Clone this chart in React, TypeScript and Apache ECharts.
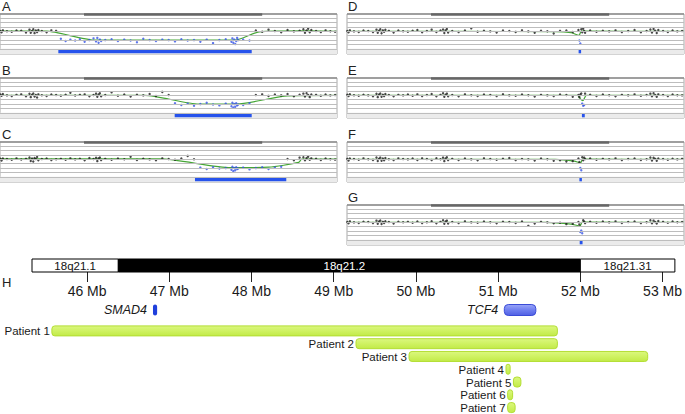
import React, { useEffect, useRef } from "react";
import * as echarts from "echarts";

// ---------- data ----------
const PROBE_MB = [
  43.74, 43.78, 43.82, 43.95, 44.1, 44.25, 44.4, 44.55,
  44.66, 44.7, 44.74, 44.78, 44.82, 44.86, 44.9, 44.94,
  45.05, 45.2, 45.35, 45.5,
  45.65, 45.8, 45.95, 46.1, 46.25, 46.4, 46.55, 46.68,
  46.76, 46.8, 46.84, 46.88, 46.92,
  47.05, 47.25, 47.45, 47.65, 47.85, 48.05, 48.25, 48.45, 48.65, 48.85,
  49.05, 49.25, 49.45, 49.65, 49.85, 50.05, 50.25, 50.45, 50.65, 50.85,
  51.03, 51.06, 51.09, 51.12, 51.15, 51.18, 51.21, 51.24,
  51.4, 51.6,
  51.8, 52.0, 52.2, 52.4, 52.6, 52.8, 53.0, 53.18,
  53.3, 53.35, 53.4, 53.45, 53.5, 53.55,
  53.7, 53.85, 54.0, 54.15, 54.3,
];

const LOG2_A = [
  0.05, -0.1, 0.12, 0.02, -0.05, 0.1, 0.08, -0.12,
  0.2, -0.15, 0.05, 0.25, -0.2, 0.1, -0.08, 0.15,
  0.04, -0.1, 0.12, 0.06,
  -0.85, -1.1, -0.95, -1.05, -0.9, -1.2, -1.0, -0.8,
  -1.15, -0.75, -1.3, -0.95, -1.1,
  -1.0, -0.9, -1.1, -0.95, -1.05, -1.25, -0.85, -1.0, -1.1, -0.95,
  -1.0, -1.15, -0.9, -1.05, -1.0, -1.2, -0.95, -1.35, -1.0, -0.9,
  -1.2, -0.8, -1.3, -0.95, -1.45, -1.1, -0.75, -1.0,
  -0.95, -1.05,
  0.1, -0.05, 0.2, 0.05, -0.1, 0.15, 0.0, 0.08,
  0.25, -0.15, 0.1, 0.3, -0.1, 0.15,
  0.05, -0.08, 0.12, 0.02, -0.04,
];
const LOG2_B = [
  0.1, -0.05, 0.15, 0.0, -0.08, 0.06, 0.12, -0.1,
  0.18, -0.2, 0.08, 0.22, -0.12, 0.05, -0.25, 0.12,
  0.02, -0.06, 0.1, 0.04,
  -0.05, 0.08, 0.3, -0.02, 0.06, 0.12, -0.1, 0.05,
  0.2, -0.15, 0.1, 0.25, -0.1,
  0.05, 0.35, -0.05, 0.1, -0.12, 0.08, 0.0, 0.15, -0.08, 0.4,
  0.05, -0.9, -1.1, -0.95, -1.2, -1.0, -0.85, -1.05, -1.15, -0.95,
  -1.25, -0.85, -1.4, -1.0, -1.3, -0.9, -1.15, -1.05,
  -1.1, -0.9,
  0.05, 0.12, -0.06, 0.1, 0.0, 0.15, -0.1, 0.08,
  0.2, -0.12, 0.25, 0.05, -0.2, 0.1,
  0.06, -0.04, 0.1, 0.0, 0.05,
];
const LOG2_C = [
  0.08, -0.12, 0.1, 0.05, -0.05, 0.12, -0.02, 0.06,
  0.22, -0.18, 0.1, -0.25, 0.15, 0.05, 0.28, -0.1,
  0.05, 0.1, -0.08, 0.02,
  0.06, -0.05, 0.12, 0.0, 0.08, -0.1, 0.15, 0.04,
  0.18, -0.2, 0.12, 0.22, -0.08,
  0.06, -0.04, 0.1, 0.02, 0.3, -0.06, 0.08, 0.0, -0.1, 0.12,
  0.05, -0.05, 0.1, 0.4, 0.02, -0.95, -1.1, -0.9, -1.05, -1.0,
  -1.2, -0.85, -1.35, -1.0, -1.25, -0.9, -1.1, -1.05,
  -0.95, -1.15,
  -1.0, -0.9, -1.1, -0.95, -0.85, 0.05, -0.1, 0.2,
  0.25, -0.1, 0.15, 0.3, -0.05, 0.12,
  0.08, -0.06, 0.1, 0.02, -0.03,
];
const LOG2_D = [
  0.05, -0.1, 0.12, 0.0, -0.06, 0.1, 0.04, -0.08,
  0.2, -0.15, 0.08, 0.25, -0.22, 0.12, -0.05, 0.18,
  0.06, -0.12, 0.1, 0.02,
  -0.04, 0.08, 0.15, -0.1, 0.05, 0.2, -0.06, 0.1,
  0.22, -0.18, 0.12, 0.28, -0.12,
  0.05, -0.08, 0.1, 0.35, -0.05, 0.08, 0.0, -0.12, 0.1, 0.04,
  -0.06, 0.12, 0.0, -0.15, 0.08, 0.02, -0.25, 0.06, 0.1, -0.08,
  0.15, -1.05, -1.4, 0.25, -0.1, 0.3, 0.05, -0.15,
  0.1, -0.05,
  0.08, 0.0, 0.12, -0.08, 0.05, 0.15, -0.1, 0.04,
  0.22, -0.12, 0.28, 0.08, -0.18, 0.15,
  0.05, -0.06, 0.1, 0.0, 0.04,
];
const LOG2_E = [
  0.08, -0.06, 0.14, 0.02, -0.04, 0.08, 0.0, -0.1,
  0.18, -0.2, 0.1, 0.22, -0.15, 0.08, -0.08, 0.15,
  0.05, -0.1, 0.06, 0.0,
  0.1, -0.05, 0.12, -0.08, 0.04, 0.16, -0.1, 0.06,
  0.25, -0.15, 0.08, 0.2, -0.1,
  0.04, -0.1, 0.12, 0.02, -0.06, 0.1, 0.05, -0.08, 0.14, 0.0,
  -0.05, 0.1, 0.02, -0.12, 0.06, 0.0, -0.08, 0.1, 0.04, -0.15,
  0.05, -0.2, 0.1, 0.22, -0.95, -1.2, -1.1, 0.2,
  0.08, -0.06,
  0.1, 0.02, -0.1, 0.06, 0.0, 0.12, -0.05, 0.05,
  0.2, -0.1, 0.25, 0.05, -0.15, 0.12,
  0.04, -0.08, 0.1, 0.02, 0.0,
];
const LOG2_F = [
  0.06, -0.12, 0.1, 0.04, -0.05, 0.12, 0.02, -0.06,
  0.22, -0.18, 0.06, 0.2, -0.15, 0.1, -0.1, 0.16,
  0.02, -0.08, 0.12, 0.05,
  0.0, 0.1, -0.06, 0.12, 0.05, -0.08, 0.14, 0.02,
  0.2, -0.2, 0.1, 0.25, -0.08,
  0.06, -0.06, 0.1, 0.0, -0.1, 0.12, 0.04, -0.05, 0.08, 0.15,
  -0.08, 0.05, 0.0, -0.12, 0.1, 0.02, -0.15, -0.1, -0.25, -0.2,
  0.1, -0.3, -1.0, -1.25, 0.25, -0.1, 0.2, 0.05,
  0.1, -0.04,
  0.06, 0.0, 0.12, -0.08, 0.05, 0.1, -0.06, 0.02,
  0.22, -0.12, 0.18, 0.06, -0.15, 0.1,
  0.05, -0.05, 0.08, 0.0, 0.06,
];
const LOG2_G = [
  0.04, -0.1, 0.12, 0.0, -0.06, 0.08, 0.05, -0.08,
  0.2, -0.15, 0.1, 0.22, -0.18, 0.06, -0.06, 0.14,
  0.04, -0.12, 0.08, 0.02,
  0.06, -0.04, 0.1, -0.08, 0.02, 0.14, -0.1, 0.06,
  0.24, -0.16, 0.1, 0.2, -0.12,
  0.05, -0.08, 0.12, 0.0, -0.05, 0.1, 0.02, -0.1, 0.08, 0.04,
  -0.06, 0.1, -0.4, -0.12, 0.06, 0.0, -0.1, -0.05, -0.2, -0.15,
  0.05, -0.25, -1.1, -0.95, -1.25, 0.25, 0.1, -0.08,
  0.08, -0.05,
  0.1, 0.0, 0.12, -0.06, 0.04, 0.1, -0.08, 0.02,
  0.25, -0.1, 0.2, 0.05, -0.12, 0.15,
  0.06, -0.04, 0.1, 0.02, 0.04,
];

const SMOOTH_A = [[43.73, 0.03], [45.2, 0.02], [46.7, -1.0], [51.15, -1.0], [51.9, -0.05], [53.4, 0.05], [54.36, 0.0]];
const SMOOTH_B = [[43.73, 0.0], [48.3, 0.0], [50.0, -1.0], [51.2, -1.0], [52.8, -0.05], [54.36, 0.0]];
const SMOOTH_C = [[43.73, 0.05], [48.8, 0.05], [51.0, -0.95], [52.2, -0.9], [53.15, -0.35], [53.25, 0.02], [54.36, 0.02]];
const SMOOTH_D = [[43.73, 0.0], [50.3, -0.02], [50.8, -0.15], [51.05, -0.45], [51.12, 0.02], [54.36, 0.0]];
const SMOOTH_E = [[43.73, 0.0], [51.0, 0.0], [51.1, -0.45], [51.17, -0.6], [51.28, 0.0], [54.36, 0.0]];
const SMOOTH_F = [[43.73, 0.0], [50.3, 0.0], [50.9, -0.2], [51.1, -0.4], [51.16, 0.02], [54.36, 0.0]];
const SMOOTH_G = [[43.73, 0.0], [50.0, 0.0], [50.8, -0.2], [51.08, -0.42], [51.15, 0.02], [54.36, 0.0]];

const PANEL_LETTERS = ["A", "B", "C", "D", "E", "F", "G"];
const PATIENTS = ["Patient 1", "Patient 2", "Patient 3", "Patient 4", "Patient 5", "Patient 6", "Patient 7"];
const DEL_START = [45.57, 49.24, 49.88, 51.05, 51.14, 51.07, 51.07];
const DEL_END = [51.67, 51.67, 52.76, 51.1, 51.23, 51.13, 51.16];

const BAND_NAMES = ["18q21.1", "18q21.2", "18q21.31"];
const BAND_START = [45.33, 46.38, 52.0];
const BAND_END = [46.38, 52.0, 53.15];
const BAND_DARK = [0, 1, 0];

const TICK_MB = [46, 47, 48, 49, 50, 51, 52, 53];

const GENE_NAMES = ["SMAD4", "TCF4"];
const GENE_START = [46.79, 51.03];
const GENE_END = [46.84, 51.41];

// ---------- layout / style ----------
const FONT = "'Liberation Sans', Arial, sans-serif";
const VIEW_MIN = 43.73;
const VIEW_MAX = 54.36;
const LEVELS = [1.5, 1, 0.5, 0, -0.5, -1, -1.5, -2];
const PANEL_BOX = [
  { left: 0, top: 14 },
  { left: 0, top: 78 },
  { left: 0, top: 142 },
  { left: 347, top: 14 },
  { left: 347, top: 78 },
  { left: 347, top: 142 },
  { left: 347, top: 205 },
];
const PANEL_W = 337;
const PANEL_H = 40;
const H_LEFT = 32;
const H_WIDTH = 648;
const H_MIN = 45.33;
const H_MAX = 53.15;

function buildOption() {
  const LOGS = [LOG2_A, LOG2_B, LOG2_C, LOG2_D, LOG2_E, LOG2_F, LOG2_G];
  const SMOOTHS = [SMOOTH_A, SMOOTH_B, SMOOTH_C, SMOOTH_D, SMOOTH_E, SMOOTH_F, SMOOTH_G];
  const grid: any[] = [];
  const xAxis: any[] = [];
  const yAxis: any[] = [];
  const series: any[] = [];

  PANEL_LETTERS.forEach((_, i) => {
    const box = PANEL_BOX[i];
    grid.push({
      left: box.left,
      top: box.top,
      width: PANEL_W,
      height: PANEL_H,
      show: true,
      borderColor: "#a8a8a8",
      borderWidth: 1,
      backgroundColor: "#fff",
    });
    xAxis.push({ gridIndex: i, type: "value", min: VIEW_MIN, max: VIEW_MAX, show: false });
    yAxis.push({ gridIndex: i, type: "value", min: -2.6, max: 2, show: false });

    // background: grey band, level lines, dark band segment
    series.push({
      type: "line",
      xAxisIndex: i,
      yAxisIndex: i,
      data: [[VIEW_MIN, -2.3], [VIEW_MAX, -2.3]],
      symbol: "none",
      lineStyle: { opacity: 0 },
      silent: true,
      z: 1,
      markArea: {
        silent: true,
        itemStyle: { color: "#ebebeb" },
        data: [[{ coord: [VIEW_MIN, -2] }, { coord: [VIEW_MAX, -2.6] }]],
      },
      markLine: {
        silent: true,
        symbol: ["none", "none"],
        label: { show: false },
        lineStyle: { color: "#bdbdbd", width: 1, type: "solid" },
        data: [
          ...LEVELS.map((v) => ({ yAxis: v })),
          { yAxis: 2, lineStyle: { color: "#8e8e8e", width: 1.5, type: "solid" } },
          [
            { coord: [BAND_START[1], 2], lineStyle: { color: "#666", width: 2.5, type: "solid" } },
            { coord: [BAND_END[1], 2] },
          ],
        ],
      },
    });

    // smoothed line
    series.push({
      type: "line",
      xAxisIndex: i,
      yAxisIndex: i,
      data: SMOOTHS[i],
      symbol: "none",
      smooth: 0.2,
      lineStyle: { color: "#45a635", width: 1.2 },
      silent: true,
      z: 2,
    });

    const vals = LOGS[i];
    const normal: number[][] = [];
    const deleted: number[][] = [];
    PROBE_MB.forEach((x, k) => {
      if (x >= DEL_START[i] && x <= DEL_END[i]) deleted.push([x, vals[k]]);
      else normal.push([x, vals[k]]);
    });
    series.push({
      type: "scatter",
      xAxisIndex: i,
      yAxisIndex: i,
      data: normal,
      symbolSize: 2.4,
      itemStyle: { color: "#1a1a1a" },
      silent: true,
      z: 3,
    });
    series.push({
      type: "scatter",
      xAxisIndex: i,
      yAxisIndex: i,
      data: deleted,
      symbolSize: 2.4,
      itemStyle: { color: "#3553e6" },
      silent: true,
      z: 3,
    });

    // deletion bar
    series.push({
      type: "custom",
      xAxisIndex: i,
      yAxisIndex: i,
      data: [[DEL_START[i], DEL_END[i]]],
      silent: true,
      z: 4,
      renderItem: (params: any, api: any) => {
        const s = api.coord([api.value(0), -2.05]);
        const e = api.coord([api.value(1), -2.52]);
        const raw = e[0] - s[0];
        const w = Math.max(raw, 2.5);
        return {
          type: "rect",
          shape: { x: s[0] + (raw - w) / 2, y: s[1], width: w, height: e[1] - s[1] },
          style: { fill: "#2653ec" },
        };
      },
    });
  });

  // ----- panel H -----
  const gI = 7; // ideogram
  grid.push({ left: H_LEFT, top: 259, width: H_WIDTH, height: 13 });
  xAxis.push({
    gridIndex: gI,
    type: "value",
    min: H_MIN,
    max: H_MAX,
    position: "bottom",
    axisLine: { show: false },
    splitLine: { show: false },
    axisTick: { show: true, customValues: TICK_MB, length: 10, lineStyle: { color: "#222", width: 1 } },
    axisLabel: {
      show: true,
      customValues: TICK_MB,
      formatter: (v: number) => `${v} Mb`,
      fontSize: 14,
      fontFamily: FONT,
      color: "#1a1a1a",
      margin: 12,
    },
  });
  yAxis.push({ gridIndex: gI, type: "value", min: 0, max: 1, show: false });
  series.push({
    type: "custom",
    xAxisIndex: gI,
    yAxisIndex: gI,
    data: BAND_NAMES.map((_, k) => [BAND_START[k], BAND_END[k], BAND_DARK[k]]),
    silent: true,
    z: 5,
    renderItem: (params: any, api: any) => {
      const p0 = api.coord([api.value(0), 1]);
      const p1 = api.coord([api.value(1), 0]);
      const dark = api.value(2) === 1;
      return {
        type: "group",
        children: [
          {
            type: "rect",
            shape: { x: p0[0], y: p0[1], width: p1[0] - p0[0], height: p1[1] - p0[1] },
            style: { fill: dark ? "#000" : "#fff", stroke: "#000", lineWidth: 1 },
          },
          {
            type: "text",
            style: {
              text: BAND_NAMES[params.dataIndex],
              x: (p0[0] + p1[0]) / 2 - (dark ? 5 : 0),
              y: (p0[1] + p1[1]) / 2 + 0.5,
              align: "center",
              verticalAlign: "middle",
              fill: dark ? "#fff" : "#111",
              fontSize: 11.5,
              fontFamily: FONT,
            },
          },
        ],
      };
    },
  });

  const gG = 8; // genes
  grid.push({ left: H_LEFT, top: 304.5, width: H_WIDTH, height: 11 });
  xAxis.push({ gridIndex: gG, type: "value", min: H_MIN, max: H_MAX, show: false });
  yAxis.push({ gridIndex: gG, type: "value", min: 0, max: 1, show: false });
  series.push({
    type: "custom",
    xAxisIndex: gG,
    yAxisIndex: gG,
    data: GENE_NAMES.map((_, k) => [GENE_START[k], GENE_END[k]]),
    silent: true,
    z: 5,
    renderItem: (params: any, api: any) => {
      const p0 = api.coord([api.value(0), 1]);
      const p1 = api.coord([api.value(1), 0]);
      const raw = p1[0] - p0[0];
      const w = Math.max(raw, 3.5);
      const h = p1[1] - p0[1];
      const wide = raw > 10;
      return {
        type: "group",
        children: [
          {
            type: "rect",
            shape: { x: p0[0], y: p0[1], width: w, height: h, r: wide ? 4 : w / 2 },
            style: wide
              ? {
                  fill: {
                    type: "linear", x: 0, y: 0, x2: 0, y2: 1,
                    colorStops: [
                      { offset: 0, color: "#9aa6f8" },
                      { offset: 0.5, color: "#6f7ff0" },
                      { offset: 1, color: "#5060e4" },
                    ],
                  },
                  stroke: "#3a4bd6",
                  lineWidth: 1,
                }
              : { fill: "#1f3fdc" },
          },
          {
            type: "text",
            style: {
              text: GENE_NAMES[params.dataIndex],
              x: p0[0] - 6,
              y: p0[1] + h / 2,
              align: "right",
              verticalAlign: "middle",
              fill: "#1a1a1a",
              fontSize: 12.5,
              fontStyle: "italic",
              fontFamily: FONT,
            },
          },
        ],
      };
    },
  });

  const gP = 9; // patients
  grid.push({ left: H_LEFT, top: 324.5, width: H_WIDTH, height: 89.6 });
  xAxis.push({ gridIndex: gP, type: "value", min: H_MIN, max: H_MAX, show: false });
  yAxis.push({ gridIndex: gP, type: "value", min: -0.5, max: 6.5, inverse: true, show: false });
  series.push({
    type: "custom",
    xAxisIndex: gP,
    yAxisIndex: gP,
    data: PATIENTS.map((_, k) => [DEL_START[k], DEL_END[k], k]),
    silent: true,
    z: 5,
    renderItem: (params: any, api: any) => {
      const row = api.value(2);
      const s = api.coord([api.value(0), row]);
      const e = api.coord([api.value(1), row]);
      const w = Math.max(e[0] - s[0], 4);
      const h = 10;
      return {
        type: "group",
        children: [
          {
            type: "rect",
            shape: { x: s[0], y: s[1] - h / 2, width: w, height: h, r: 3 },
            style: {
              fill: {
                type: "linear", x: 0, y: 0, x2: 0, y2: 1,
                colorStops: [
                  { offset: 0, color: "#dbf77f" },
                  { offset: 0.5, color: "#cff262" },
                  { offset: 1, color: "#c2ea48" },
                ],
              },
              stroke: "#b3de34",
              lineWidth: 1,
            },
          },
          {
            type: "text",
            style: {
              text: PATIENTS[row],
              x: s[0] - 2,
              y: s[1] + 0.5,
              align: "right",
              verticalAlign: "middle",
              fill: "#1a1a1a",
              fontSize: 11.5,
              fontFamily: FONT,
            },
          },
        ],
      };
    },
  });

  const graphic: any[] = PANEL_LETTERS.map((L, i) => ({
    type: "text",
    left: PANEL_BOX[i].left + (i < 3 ? 2 : 1),
    top: PANEL_BOX[i].top - 14.5,
    silent: true,
    style: { text: L, fontSize: 13, fontFamily: FONT, fill: "#222" },
  }));
  graphic.push({
    type: "text",
    left: 2,
    top: 275.5,
    silent: true,
    style: { text: "H", fontSize: 13, fontFamily: FONT, fill: "#222" },
  });

  return {
    animation: false,
    backgroundColor: "#fff",
    grid,
    xAxis,
    yAxis,
    series,
    graphic,
  };
}

export default function App() {
  const ref = useRef<HTMLDivElement>(null);
  useEffect(() => {
    if (!ref.current) return;
    const chart = echarts.init(ref.current, undefined, { renderer: "svg" });
    chart.setOption(buildOption() as any);
    return () => chart.dispose();
  }, []);
  return (
    <div
      ref={ref}
      style={{ position: "fixed", left: 0, top: 0, width: 685, height: 414, background: "#fff" }}
    />
  );
}
